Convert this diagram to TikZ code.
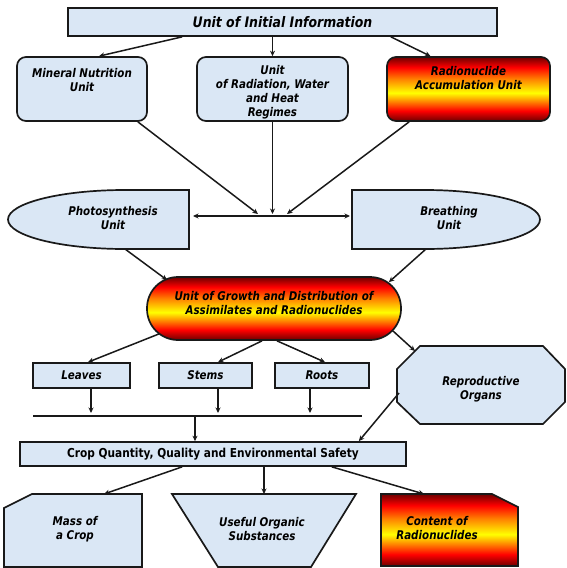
\documentclass[tikz,border=0pt]{standalone}
\usepackage{fontspec}
\usetikzlibrary{arrows.meta}
\newfontfamily\labfont[FakeStretch=0.86]{DejaVu Sans}
\definecolor{boxblue}{RGB}{218,231,245}
\definecolor{darkr}{RGB}{110,0,0}
\definecolor{bord}{RGB}{25,25,25}
\pgfdeclareverticalshading{ryr}{100bp}{color(0bp)=(darkr); color(25bp)=(darkr); color(33bp)=(red); color(47bp)=(yellow); color(58bp)=(orange); color(67bp)=(red); color(75bp)=(darkr); color(100bp)=(darkr)}
\begin{document}
\begin{tikzpicture}[x=1pt,y=-1pt,
  bx/.style={draw=bord, line width=1.7pt, fill=boxblue},
  hot/.style={draw=bord, line width=1.7pt, shade, shading=ryr},
  ghost/.style={inner sep=0pt, outer sep=0pt},
  txt/.style={font=\labfont\bfseries\itshape\fontsize{12}{14}\selectfont, align=center, inner sep=0pt, text=black},
  big/.style={font=\labfont\bfseries\itshape\fontsize{14.5}{16}\selectfont},
  upr/.style={font=\labfont\bfseries\fontsize{12.3}{14}\selectfont, align=center, inner sep=0pt},
  arr/.style={line width=1.5pt, draw=bord, -{Stealth[length=5.5pt,width=5pt]}},
  darr/.style={line width=1.5pt, draw=bord, {Stealth[length=5.5pt,width=5pt]}-{Stealth[length=5.5pt,width=5pt]}},
  ln/.style={line width=1.5pt, draw=bord},
]
\useasboundingbox (0,0) rectangle (566,568);

% top row
\node[bx, txt, big, minimum width=429pt, minimum height=28pt] (init) at (282.5,22) {Unit of Initial Information};

\node[bx, rounded corners=9pt, minimum width=130pt, minimum height=64pt, inner sep=0pt] (mineral) at (82,89) {};
\node[txt] (mineralT) at (82,80) {Mineral Nutrition\\Unit};

\node[bx, rounded corners=9pt, minimum width=151pt, minimum height=64pt, inner sep=0pt] (radiation) at (272.5,89) {};
\node[txt] (radiationT) at (272.5,92) {Unit\\of Radiation, Water\\and Heat\\Regimes};

\node[hot, rounded corners=9pt, minimum width=163pt, minimum height=64pt, inner sep=0pt] (radnuc) at (468.5,89) {};
\node[txt] (radnucT) at (468.5,78) {Radionuclide\\Accumulation Unit};

\draw[arr] ([shift={(115,0)}]init.south west) -- ([shift={(17,0)}]mineral.north);
\draw[arr] (init.south -| radiation.north) -- (radiation.north);
\draw[arr] ([shift={(-107,0)}]init.south east) -- ([shift={(-38,0)}]radnuc.north);

% photosynthesis & breathing
\draw[bx] (189,190) -- (125,190) arc[start angle=270, end angle=90, x radius=117, y radius=29.5] -- (189,249) -- cycle;
\node[ghost, minimum width=181pt, minimum height=59pt] (photo) at (98.5,219.5) {};
\node[txt] (photoT) at (113,218) {Photosynthesis\\Unit};

\draw[bx] (352,190) -- (425,190) arc[start angle=270, end angle=450, x radius=115, y radius=29.5] -- (352,249) -- cycle;
\node[ghost, minimum width=188pt, minimum height=59pt] (breath) at (446,219.5) {};
\node[txt] (breathT) at (449,218) {Breathing\\Unit};

\draw[darr] ([shift={(4,-3.5)}]photo.east) -- ([shift={(-2,-3.5)}]breath.west);
\coordinate (j1) at (258,214);
\coordinate (j2) at (272.5,214);
\coordinate (j3) at (287,214);
\draw[arr] ([shift={(-10,0)}]mineral.south east) -- (j1);
\draw[arr] (radiation.south) -- (j2);
\draw[arr] ([shift={(23,0)}]radnuc.south west) -- (j3);

% growth
\node[hot, rounded corners=31pt, minimum width=254pt, minimum height=63pt, inner sep=0pt] (growth) at (274,308.5) {};
\node[txt] (growthT) at (274,303.5) {Unit of Growth and Distribution of\\Assimilates and Radionuclides};

\draw[arr] ([shift={(26.5,0)}]photo.south) -- ([shift={(21,4)}]growth.north west);
\draw[arr] ([shift={(-20,0)}]breath.south) -- ([shift={(-13,6)}]growth.north east);

% organs
\node[bx, txt, minimum width=97pt, minimum height=25pt] (leaves) at (81.5,375.5) {Leaves};
\node[bx, txt, minimum width=93pt, minimum height=25pt] (stems) at (205.5,375.5) {Stems};
\node[bx, txt, minimum width=94pt, minimum height=25pt] (roots) at (322,375.5) {Roots};

\draw[bx] (420,346) -- (543,346) -- (565,369) -- (565,402) -- (543,424) -- (420,424) -- (397,402) -- (397,369) -- cycle;
\node[ghost, minimum width=168pt, minimum height=78pt] (repro) at (481,385) {};
\node[txt] (reproT) at (481,389.5) {Reproductive\\Organs};

\draw[arr] ([shift={(13,-7)}]growth.south west) -- ([shift={(6.5,0)}]leaves.north);
\draw[arr] ([shift={(-12,0)}]growth.south) -- ([shift={(12.5,0)}]stems.north);
\draw[arr] ([shift={(3,0)}]growth.south) -- ([shift={(3,0)}]roots.north);
\draw[arr] ([shift={(-9,-10)}]growth.south east) -- ([shift={(18,5)}]repro.north west);

% bus
\coordinate (busL) at (33,416);
\coordinate (busR) at (362,416);
\coordinate (busM) at (195,416);
\draw[ln] (busL) -- (busR);
\draw[arr] ([shift={(9.5,0)}]leaves.south) -- ([shift={(9.5,-3)}]leaves.south |- busL);
\draw[arr] ([shift={(12.5,0)}]stems.south) -- ([shift={(12.5,-3)}]stems.south |- busL);
\draw[arr] ([shift={(-12,0)}]roots.south) -- ([shift={(-12,-3)}]roots.south |- busL);

% crop
\node[bx, upr, minimum width=386pt, minimum height=24pt] (crop) at (213,454) {Crop Quantity, Quality and Environmental Safety};
\draw[arr] (busM) -- (busM |- crop.north);
\draw[arr] ([shift={(2,8)}]repro.west) -- ([shift={(-48,0)}]crop.north east);

% bottom
\draw[bx] (32,494) -- (142,494) -- (142,567) -- (4,567) -- (4,508) -- cycle;
\node[ghost, minimum width=138pt, minimum height=73pt] (mass) at (73,530.5) {};
\node[txt] (massT) at (75,529) {Mass of\\a Crop};

\draw[bx] (172,494) -- (356,494) -- (311,567) -- (218,567) -- cycle;
\node[ghost, minimum width=184pt, minimum height=73pt] (useful) at (264,530.5) {};
\node[txt] (usefulT) at (262,529) {Useful Organic\\Substances};

\draw[hot] (381,494) -- (492,494) -- (518,507) -- (518,566) -- (381,566) -- cycle;
\node[ghost, minimum width=137pt, minimum height=72pt] (content) at (449.5,530) {};
\node[txt] (contentT) at (437,528) {Content of\\Radionuclides};

\draw[arr] ([shift={(163,0)}]crop.south west) -- ([shift={(31,0)}]mass.north);
\draw[arr] (useful.north |- crop.south) -- (useful.north);
\draw[arr] ([shift={(-75,0)}]crop.south east) -- ([shift={(43,0)}]content.north west);
\end{tikzpicture}
\end{document}
